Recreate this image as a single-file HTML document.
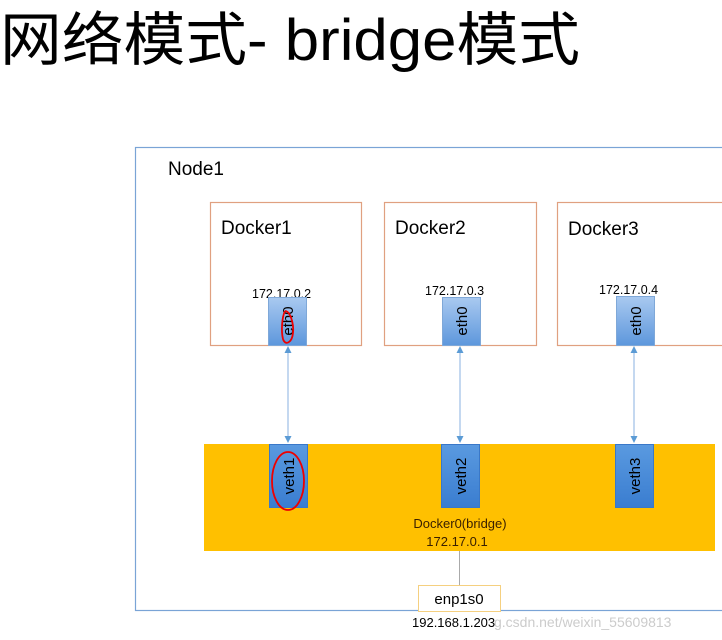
<!DOCTYPE html>
<html><head><meta charset="utf-8"><style>
html,body{margin:0;padding:0;background:#fff;width:722px;height:640px;overflow:hidden}
svg text{font-family:"Liberation Sans","Noto Sans CJK SC",sans-serif}
</style></head><body>
<svg width="722" height="640" viewBox="0 0 722 640" xmlns="http://www.w3.org/2000/svg">
<defs>
<linearGradient id="g" x1="0" y1="0" x2="0" y2="1"><stop offset="0" stop-color="#a9c9f0"/><stop offset="1" stop-color="#5d97dc"/></linearGradient>
<linearGradient id="v" x1="0" y1="0" x2="0" y2="1"><stop offset="0" stop-color="#5a9ae0"/><stop offset="1" stop-color="#3a7dd0"/></linearGradient>
</defs>
<text x="0" y="60" font-size="58" fill="#000" textLength="580" lengthAdjust="spacingAndGlyphs" font-family="'Noto Sans CJK SC','Liberation Sans',sans-serif">网络模式- bridge模式</text>
<rect x="135.5" y="147.5" width="600" height="463" fill="none" stroke="#7aa4d6" stroke-width="1.2"/>
<text x="168" y="175" font-size="19" fill="#000">Node1</text>
<g fill="#fff" stroke="#e0a080" stroke-width="1.2">
<rect x="210.5" y="202.5" width="151" height="143"/>
<rect x="384.5" y="202.5" width="152" height="143"/>
<rect x="557.5" y="202.5" width="170" height="143"/>
</g>
<g font-size="19" fill="#000">
<text x="221" y="234">Docker1</text><text x="395" y="234">Docker2</text><text x="568" y="235">Docker3</text>
</g>
<g font-size="12.5" fill="#000">
<text x="252" y="298">172.17.0.2</text><text x="425" y="295">172.17.0.3</text><text x="599" y="294">172.17.0.4</text>
</g>
<rect x="204" y="444" width="511" height="107" fill="#ffc000"/>
<g fill="url(#g)" stroke="#7fa8d8">
<rect x="268.5" y="297.5" width="38" height="48"/><rect x="442.5" y="297.5" width="38" height="48"/><rect x="616.5" y="296.5" width="38" height="49"/>
</g>
<g fill="url(#v)" stroke="#3a78c8">
<rect x="269.5" y="444.5" width="38" height="63"/><rect x="441.5" y="444.5" width="38" height="63"/><rect x="615.5" y="444.5" width="38" height="63"/>
</g>
<g font-size="15" fill="#000">
<text transform="translate(293,321) rotate(-90)" text-anchor="middle">eth0</text>
<text transform="translate(467,321) rotate(-90)" text-anchor="middle">eth0</text>
<text transform="translate(641,321) rotate(-90)" text-anchor="middle">eth0</text>
<text transform="translate(294,476) rotate(-90)" text-anchor="middle">veth1</text>
<text transform="translate(466,476) rotate(-90)" text-anchor="middle">veth2</text>
<text transform="translate(640,476) rotate(-90)" text-anchor="middle">veth3</text>
</g>
<g stroke="#8ab0e0" stroke-width="1" fill="#5b9bd5">
<line x1="288" y1="352" x2="288" y2="438"/><path d="M288 346 l-3.5 7 h7z M288 443 l-3.5 -7 h7z" stroke="none"/>
<line x1="460" y1="352" x2="460" y2="438"/><path d="M460 346 l-3.5 7 h7z M460 443 l-3.5 -7 h7z" stroke="none"/>
<line x1="634" y1="352" x2="634" y2="438"/><path d="M634 346 l-3.5 7 h7z M634 443 l-3.5 -7 h7z" stroke="none"/>
</g>
<g fill="none" stroke="#e00" stroke-width="1.8">
<path d="M285 311 c5 0 9 12 8 22 c-1 10 -8 13 -10 6 c-2 -8 -1 -22 2 -28"/>
<ellipse cx="288" cy="481" rx="16" ry="29"/>
</g>
<g font-size="13" fill="#3a2000" text-anchor="middle">
<text x="460" y="528">Docker0(bridge)</text><text x="457" y="546">172.17.0.1</text>
</g>
<line x1="459.5" y1="551" x2="459.5" y2="585" stroke="#aaa"/>
<rect x="418.5" y="585.5" width="82" height="26" fill="#fff" stroke="#f5d080"/>
<text x="459" y="604" font-size="15" fill="#000" text-anchor="middle">enp1s0</text>
<text x="412" y="627" font-size="13" fill="#000">192.168.1.203</text>
<text x="494" y="627" font-size="14" fill="#ccc">g.csdn.net/weixin_55609813</text>
</svg>
</body></html>
